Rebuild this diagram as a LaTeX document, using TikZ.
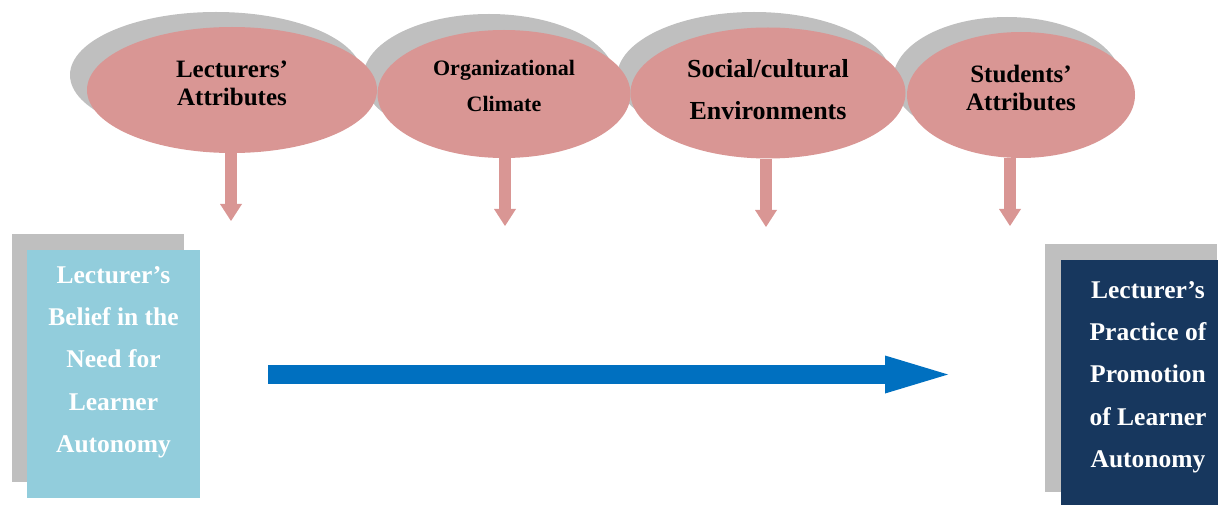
\documentclass[tikz,border=0pt]{standalone}
\usepackage{fontspec}
\setmainfont{Liberation Serif}
\usetikzlibrary{shapes.geometric,arrows.meta}
\definecolor{pinkfill}{HTML}{D99694}
\definecolor{shadowgray}{HTML}{BFBFBF}
\definecolor{lightblue}{HTML}{92CDDC}
\definecolor{navyblue}{HTML}{17375E}
\definecolor{arrowblue}{HTML}{0070C0}
\tikzset{
  shadowell/.style={ellipse, fill=shadowgray, draw=none, inner sep=0pt},
  pinkell/.style={ellipse, fill=pinkfill, draw=none, inner sep=0pt},
  elltext/.style={align=center, font=\bfseries, text=black, inner sep=0pt},
  boxshadow/.style={rectangle, fill=shadowgray, draw=none, inner sep=0pt, anchor=north west},
  boxtext/.style={align=center, font=\bfseries\fontsize{25.5pt}{42.3pt}\selectfont, text=white, inner sep=0pt},
  pinkarrow/.style={draw=pinkfill, line width=12pt, -{Triangle[width=22pt,length=17pt,line width=0pt]}},
  bigarrow/.style={draw=arrowblue, line width=19pt, -{Triangle[width=38pt,length=63pt,line width=0pt]}}
}
\begin{document}
\begin{tikzpicture}[x=1pt,y=-1pt]
\useasboundingbox (0,0) rectangle (1218,505);
% shadows
\node[shadowell, minimum width=292pt, minimum height=126pt] (s1) at (216,75) {};
\node[shadowell, minimum width=252pt, minimum height=128pt] (s2) at (489,78) {};
\node[shadowell, minimum width=274pt, minimum height=130pt] (s3) at (754,77) {};
\node[shadowell, minimum width=228pt, minimum height=126pt] (s4) at (1007,80) {};
% pink ellipses
\node[pinkell, minimum width=290pt, minimum height=126pt] (e1) at (232,90) {};
\node[pinkell, minimum width=253pt, minimum height=128pt] (e2) at (504,94) {};
\node[pinkell, minimum width=275pt, minimum height=131pt] (e3) at (768,93) {};
\node[pinkell, minimum width=228pt, minimum height=126pt] (e4) at (1021,95) {};
% texts
\node[elltext, font=\bfseries\fontsize{25pt}{28pt}\selectfont] (l1) at (232,83) {Lecturers’\\Attributes};
\node[elltext, font=\bfseries\fontsize{22pt}{36pt}\selectfont] (l2) at (504,86) {Organizational\\Climate};
\node[elltext, font=\bfseries\fontsize{26pt}{42pt}\selectfont] (l3) at (768,90) {Social/cultural\\Environments};
\node[elltext, font=\bfseries\fontsize{25pt}{28pt}\selectfont] (l4) at (1021,88) {Students’\\Attributes};
% small arrows
\coordinate (t1) at (231,221);
\coordinate (t2) at (505,226);
\coordinate (t3) at (766,227);
\coordinate (t4) at (1010,226);
\draw[pinkarrow] (t1 |- e1.south) -- (t1);
\draw[pinkarrow] (t2 |- e2.south) -- (t2);
\draw[pinkarrow] (t3 |- e3.south) -- (t3);
\draw[pinkarrow] (t4 |- e4.south) -- (t4);
% left box
\node[boxshadow, minimum width=172pt, minimum height=248pt] (bs1) at (12,234) {};
\node[boxshadow, fill=lightblue, minimum width=173pt, minimum height=248pt] (b1) at (27,250) {};
\node[boxtext] (bt1) at (113.5,362) {Lecturer’s\\Belief in the\\Need for\\Learner\\Autonomy};
% right box
\node[boxshadow, minimum width=172pt, minimum height=248pt] (bs2) at (1045,244) {};
\node[boxshadow, fill=navyblue, minimum width=157pt, minimum height=245pt] (b2) at (1061,260) {};
\node[boxtext] (bt2) at (1148,377) {Lecturer’s\\Practice of\\Promotion\\of Learner\\Autonomy};
% big arrow
\coordinate (ba1) at (268,374.5);
\coordinate (ba2) at (948,374.5);
\draw[bigarrow] (ba1) -- (ba2);
\end{tikzpicture}
\end{document}
